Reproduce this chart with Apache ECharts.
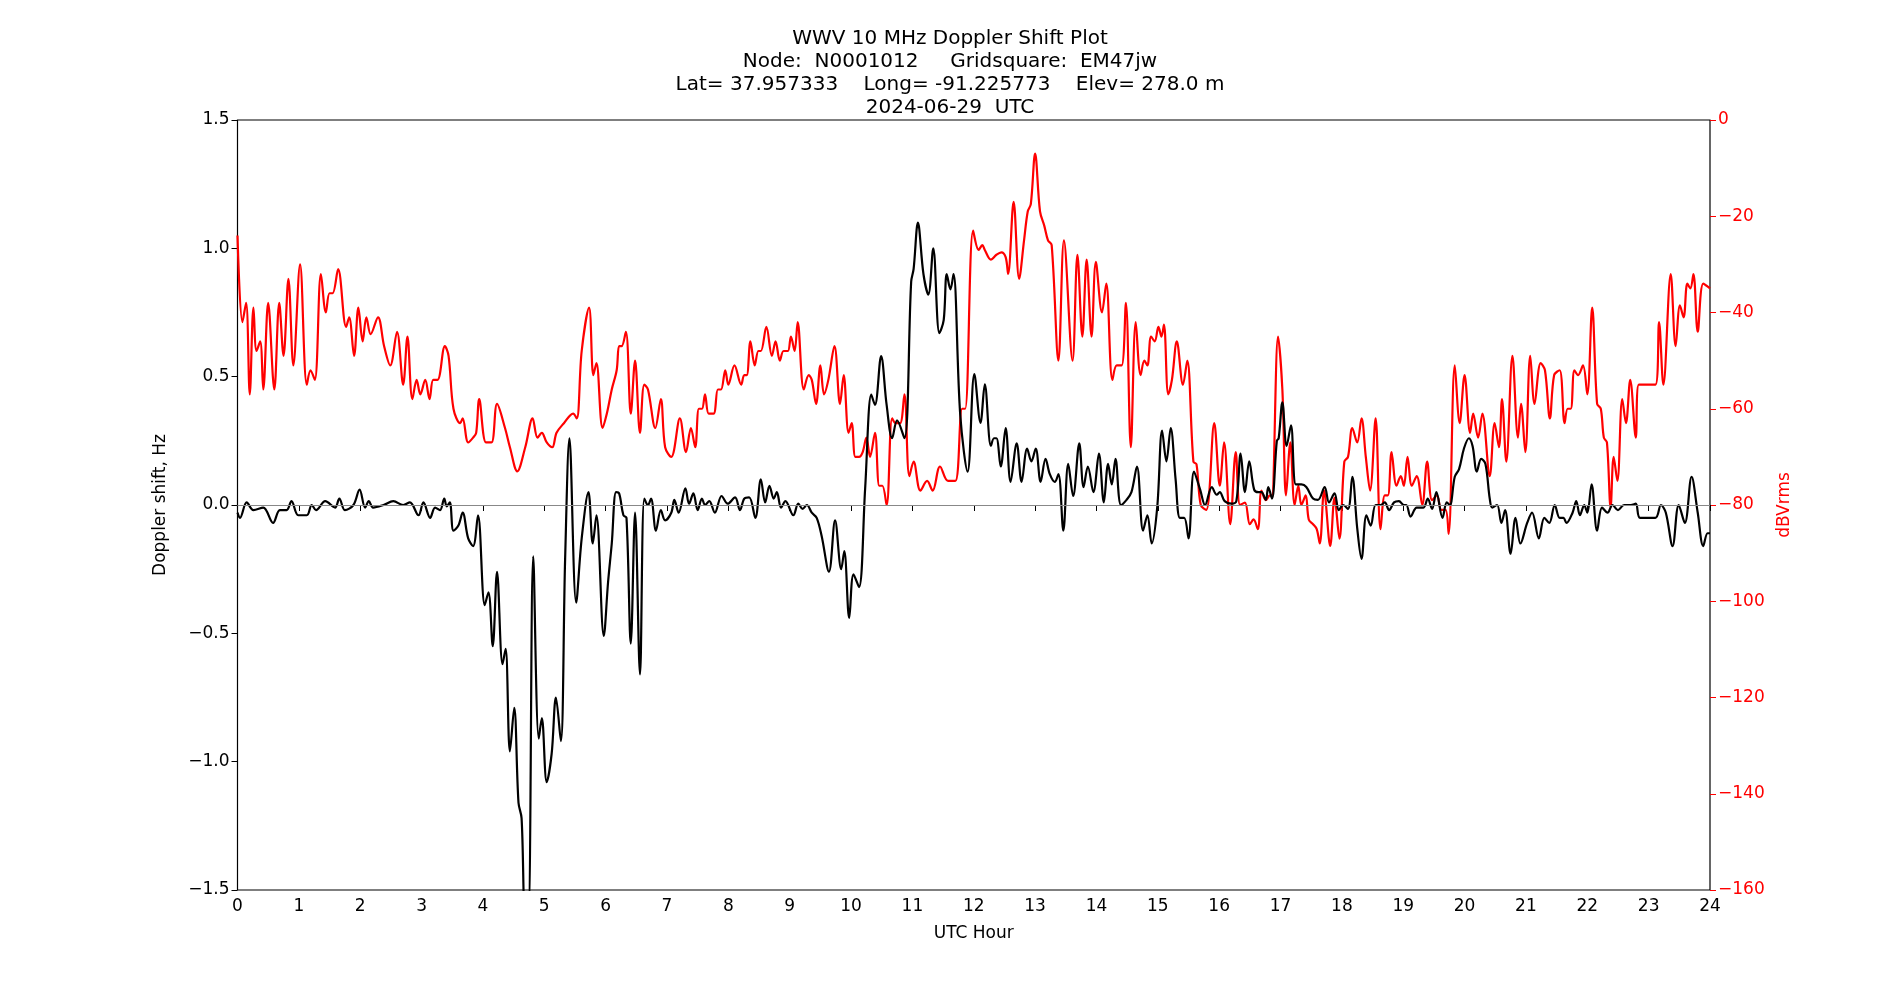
<!DOCTYPE html>
<html><head><meta charset="utf-8">
<script src="https://cdn.jsdelivr.net/npm/echarts@6/dist/echarts.min.js"></script>
<style>html,body{margin:0;padding:0;background:#fff}#c{width:1900px;height:1000px}</style>
</head><body><div id="c"></div>
<script>
const titleLines = ['WWV 10 MHz Doppler Shift Plot','Node:  N0001012     Gridsquare:  EM47jw','Lat= 37.957333    Long= -91.225773    Elev= 278.0 m','2024-06-29  UTC'];
const xTicks = [0,1,2,3,4,5,6,7,8,9,10,11,12,13,14,15,16,17,18,19,20,21,22,23,24];

const dopHours = [0.0,0.04,0.15,0.26,0.42,0.58,0.69,0.80,0.88,0.99,1.13,1.21,1.28,1.43,1.59,1.66,1.75,1.89,1.99,2.08,2.14,2.21,2.38,2.54,2.70,2.81,2.95,3.03,3.14,3.22,3.30,3.37,3.41,3.46,3.52,3.60,3.67,3.76,3.84,3.92,4.03,4.09,4.16,4.23,4.32,4.37,4.44,4.51,4.58,4.63,4.69,4.74,4.82,4.91,4.96,5.04,5.12,5.19,5.27,5.34,5.41,5.52,5.61,5.72,5.79,5.85,5.97,6.04,
6.10,6.17,6.22,6.29,6.34,6.41,6.48,6.56,6.63,6.69,6.74,6.82,6.90,6.97,7.07,7.12,7.19,7.30,7.36,7.43,7.50,7.57,7.62,7.69,7.78,7.89,7.99,8.11,8.19,8.26,8.34,8.44,8.53,8.60,8.67,8.74,8.79,8.86,8.93,9.06,9.14,9.21,9.28,9.36,9.44,9.52,9.64,9.74,9.84,9.89,9.97,10.04,10.13,10.23,10.33,10.39,10.49,10.58,10.67,10.75,10.87,10.98,11.02,11.09,11.18,11.26,11.34,11.44,11.51,11.56,11.62,11.67,11.78,11.90,12.01,12.11,
12.18,12.28,12.33,12.37,12.44,12.52,12.60,12.70,12.78,12.87,12.94,13.01,13.09,13.17,13.24,13.32,13.38,13.46,13.54,13.62,13.72,13.79,13.86,13.95,14.04,14.12,14.19,14.25,14.31,14.40,14.49,14.57,14.66,14.76,14.83,14.90,14.99,15.07,15.14,15.21,15.29,15.36,15.43,15.50,15.59,15.69,15.77,15.88,15.96,16.01,16.09,16.20,16.28,16.35,16.42,16.49,16.57,16.64,16.69,16.76,16.80,16.86,16.94,16.97,17.03,17.10,17.17,17.25,17.34,17.42,17.53,17.61,17.72,17.79,17.88,17.95,18.02,18.10,18.17,
18.25,18.32,18.40,18.47,18.55,18.63,18.70,18.77,18.85,18.93,19.01,19.05,19.12,19.22,19.33,19.40,19.47,19.54,19.64,19.71,19.76,19.84,19.91,19.99,20.07,20.13,20.20,20.27,20.34,20.41,20.45,20.53,20.60,20.66,20.75,20.83,20.91,21.02,21.10,21.21,21.30,21.38,21.47,21.55,21.61,21.66,21.76,21.82,21.88,21.95,22.00,22.07,22.16,22.24,22.33,22.41,22.50,22.60,22.71,22.79,22.86,23.11,23.20,23.28,23.39,23.49,23.59,23.70,23.80,23.89,23.96,24.0];
const dopVals = [-0.03,-0.05,0.01,-0.02,-0.01,-0.07,-0.02,-0.02,0.015,-0.04,-0.04,0,-0.02,0.015,-0.01,0.025,-0.02,0,0.06,-0.01,0.015,-0.01,0,0.015,0,0.01,-0.04,0.01,-0.05,-0.01,-0.02,0.025,-0.005,0.01,-0.1,-0.08,-0.03,-0.13,-0.16,-0.04,-0.39,-0.34,-0.55,-0.26,-0.62,-0.56,-0.96,-0.79,-1.16,-1.22,-1.6,-1.6,-0.2,-0.91,-0.83,-1.08,-0.97,-0.75,-0.92,-0.21,0.26,-0.38,-0.13,0.05,-0.15,-0.04,-0.51,-0.3,
-0.15,0.05,0.045,-0.04,-0.05,-0.54,-0.03,-0.66,0.025,0,0.025,-0.1,-0.02,-0.06,-0.03,0.02,-0.03,0.065,0.005,0.045,-0.02,0.025,0,0.015,-0.03,0.035,0.005,0.03,-0.02,0.025,0.03,-0.05,0.1,0.01,0.075,0.025,0.05,-0.01,0.015,-0.04,0.005,-0.015,0,-0.03,-0.05,-0.12,-0.26,-0.06,-0.25,-0.18,-0.44,-0.27,-0.32,0.065,0.43,0.39,0.58,0.39,0.26,0.33,0.26,0.87,0.92,1.10,0.9,0.82,1.0,0.67,0.72,0.9,0.84,0.9,0.35,0.13,0.51,0.32,
0.47,0.23,0.26,0.26,0.15,0.30,0.09,0.24,0.09,0.22,0.17,0.22,0.09,0.18,0.12,0.09,0.12,-0.1,0.16,0.035,0.24,0.07,0.15,0.05,0.2,0.01,0.16,0.08,0.18,0,0.02,0.05,0.15,-0.1,-0.04,-0.15,-0.01,0.29,0.17,0.3,0.1,-0.05,-0.05,-0.13,0.13,0.06,0,0.07,0.04,0.05,0.015,0.005,0.015,0.2,0.05,0.17,0.06,0.05,0.05,0.02,0.07,0.025,0.25,0.26,0.40,0.23,0.31,0.08,0.08,0.07,0.025,0.02,0.07,0.01,0.045,-0.02,0,-0.015,0.11,
-0.09,-0.21,-0.04,-0.08,0,0,0.01,-0.02,0.01,0.015,0,0,-0.045,-0.01,-0.01,0.025,-0.015,0.05,-0.05,0.01,0,0.11,0.14,0.22,0.26,0.23,0.13,0.18,0.16,0.025,-0.01,0,-0.07,-0.02,-0.19,-0.05,-0.15,-0.07,-0.03,-0.13,-0.05,-0.07,0,-0.05,-0.05,-0.07,-0.03,0.015,-0.04,0,-0.03,0.08,-0.1,-0.01,-0.03,0,-0.02,0,0,0.005,-0.05,-0.05,0,-0.03,-0.16,0,-0.07,0.11,-0.03,-0.16,-0.11,-0.11];

const pwrHours = [0.0,0.08,0.14,0.20,0.26,0.31,0.37,0.42,0.50,0.60,0.68,0.75,0.83,0.91,1.02,1.13,1.19,1.26,1.36,1.44,1.50,1.55,1.64,1.77,1.82,1.90,1.97,2.04,2.10,2.17,2.29,2.39,2.49,2.60,2.70,2.77,2.85,2.92,2.98,3.06,3.13,3.19,3.26,3.38,3.44,3.52,3.63,3.67,3.76,3.84,3.89,3.94,4.05,4.14,4.23,4.36,4.44,4.56,4.69,4.81,4.89,4.96,5.04,5.13,5.20,5.32,5.47,5.53,5.61,5.73,5.80,5.85,5.95,6.02,
6.10,6.18,6.22,6.26,6.33,6.41,6.48,6.56,6.63,6.69,6.81,6.90,6.97,7.07,7.21,7.31,7.39,7.46,7.52,7.57,7.62,7.68,7.76,7.83,7.88,7.95,8.00,8.10,8.21,8.26,8.30,8.36,8.43,8.49,8.53,8.62,8.71,8.77,8.84,8.90,8.97,9.02,9.08,9.13,9.23,9.31,9.36,9.43,9.50,9.56,9.63,9.73,9.82,9.88,9.96,10.01,10.07,10.13,10.19,10.25,10.31,10.39,10.46,10.51,10.58,10.67,10.73,10.80,10.87,10.95,11.02,11.13,11.24,11.33,11.45,11.58,11.70,11.81,11.86,11.99,12.08,12.14,
12.18,12.28,12.37,12.45,12.52,12.56,12.65,12.74,12.82,12.88,12.93,13.00,13.08,13.15,13.21,13.27,13.38,13.47,13.61,13.69,13.77,13.84,13.92,13.99,14.09,14.16,14.26,14.33,14.41,14.48,14.56,14.64,14.72,14.78,14.83,14.89,14.95,15.01,15.06,15.10,15.17,15.23,15.31,15.41,15.48,15.58,15.63,15.70,15.79,15.92,16.01,16.08,16.18,16.27,16.34,16.42,16.50,16.56,16.63,16.69,16.76,16.83,16.86,16.96,17.03,17.09,17.16,17.23,17.29,17.34,17.41,17.46,17.53,17.59,17.64,17.71,17.81,17.88,17.96,18.04,18.10,18.17,
18.25,18.32,18.39,18.46,18.55,18.63,18.70,18.75,18.81,18.89,18.96,19.01,19.07,19.14,19.22,19.31,19.39,19.47,19.55,19.62,19.69,19.74,19.84,19.92,20.00,20.09,20.14,20.22,20.29,20.41,20.49,20.56,20.61,20.68,20.78,20.87,20.92,20.99,21.07,21.14,21.24,21.31,21.39,21.46,21.55,21.63,21.68,21.73,21.79,21.85,21.93,22.00,22.08,22.16,22.22,22.27,22.32,22.38,22.43,22.49,22.57,22.63,22.70,22.79,22.84,23.11,23.17,23.24,23.36,23.44,23.51,23.57,23.63,23.68,23.73,23.80,23.89,24.0];
const pwrVals = [-24,-42,-38,-57,-39,-48,-46,-56,-38,-56,-38,-49,-33,-51,-30,-55,-52,-54,-32,-40,-36,-36,-31,-43,-41,-49,-39,-46,-41,-44.5,-41,-47,-51,-44,-55,-45,-58,-54,-57,-54,-58,-54,-54,-47,-49,-60,-63,-62,-67,-66,-65,-58,-67,-67,-59,-64,-68,-73,-68,-62,-66,-65,-67,-68,-65,-63,-61,-62,-48,-39,-53,-50.5,-64,-61,
-56,-52,-47,-47,-44,-61,-50,-65,-55,-56,-64,-58,-68,-70,-62,-69,-64,-68,-60,-60,-57,-61,-61,-56,-56,-52,-55,-51,-55,-53,-53,-46,-51,-48,-48,-43,-49,-46,-50,-48,-48,-45,-48,-42,-56,-53,-54,-59,-51,-57,-54,-47,-59,-53,-65,-63,-70,-70,-69,-66,-70,-65,-76,-76,-80,-62,-63,-63,-57,-74,-71,-77,-75,-77,-72,-75,-75,-60,-60,-23,-27,-26,
-27,-29,-28,-27.5,-28.5,-32,-17,-33,-25,-19,-17.5,-7,-19,-22,-25,-26,-50,-25,-50,-28,-45,-29,-45,-29.5,-40,-34,-54,-51,-51,-38,-68,-42,-53,-50,-51,-45,-46,-43,-45,-42.5,-57,-54,-46,-55,-50,-71,-71.5,-80,-81,-63,-76,-67,-84,-69,-80,-79.5,-84,-83,-85,-77,-79,-78,-78,-45,-56,-78,-67,-80,-76,-80,-78,-83,-84,-85,-88,-77,-88.5,-78.5,-87,-71,-70,-64,
-67,-62,-70,-77,-62,-85,-78,-78,-69,-76,-74,-76,-70,-76,-74,-80,-71,-79,-78,-81,-81,-86,-51,-63,-53,-65,-61,-66,-61,-74,-63,-68,-58,-71,-49,-66,-59,-69,-49,-59,-50.5,-52,-62,-53,-52,-63,-60,-60,-52,-53,-51,-57,-39,-59,-60,-66,-67,-80.5,-70,-75,-58,-63,-54,-66,-55,-55,-42,-55,-32,-47,-38.5,-41,-34,-35,-32,-44,-34,-35];

const zip = (a,b)=>a.map((h,i)=>[h,b[i]]);
const font = 'DejaVu Sans';
const chart = echarts.init(document.getElementById('c'));
chart.setOption({
  animation:false,
  title:{text:titleLines.join('\n'),left:'center',top:22,textStyle:{fontFamily:font,fontSize:20,fontWeight:'normal',color:'#000',lineHeight:23}},
  grid:{left:237.5,right:190,top:120,bottom:110,show:true,borderColor:'#000',borderWidth:1.2,backgroundColor:'transparent'},
  xAxis:{type:'value',min:0,max:24,interval:1,name:'UTC Hour',nameLocation:'middle',nameGap:35,
    nameTextStyle:{fontFamily:font,fontSize:17,color:'#000'},
    axisLine:{show:false},axisTick:{show:true,length:6,lineStyle:{color:'#000'}},splitLine:{show:false},
    axisLabel:{fontFamily:font,fontSize:17,color:'#000',margin:8}},
  yAxis:[
    {type:'value',min:-1.5,max:1.5,interval:0.5,name:'Doppler shift, Hz',nameLocation:'middle',nameGap:68,
      nameTextStyle:{fontFamily:font,fontSize:17,color:'#000'},
      axisLine:{show:false},axisTick:{show:true,length:6,lineStyle:{color:'#000'}},splitLine:{show:false},
      axisLabel:{fontFamily:font,fontSize:17,color:'#000',formatter:v=>(v<0?'\u2212':'')+Math.abs(v).toFixed(1)}},
    {type:'value',min:-160,max:0,interval:20,position:'right',name:'dBVrms',nameLocation:'middle',nameGap:62,
      nameTextStyle:{fontFamily:font,fontSize:17,color:'#ff0000'},
      axisLine:{show:false},axisTick:{show:true,length:6,lineStyle:{color:'#ff0000'}},splitLine:{show:false},
      axisLabel:{fontFamily:font,fontSize:17,color:'#ff0000',formatter:v=>(v<0?'\u2212':'')+Math.abs(v)}}
  ],
  series:[
    {type:'line',yAxisIndex:1,data:zip(pwrHours,pwrVals),smooth:0.35,symbol:'none',lineStyle:{color:'#ff0000',width:2.2},z:2},
    {type:'line',yAxisIndex:0,data:zip(dopHours,dopVals),smooth:0.35,symbol:'none',lineStyle:{color:'#000',width:2.2},z:3,
      markLine:{silent:true,symbol:'none',label:{show:false},lineStyle:{color:'#888',width:1.2,type:'solid'},data:[{yAxis:0}]}}
  ]
});
</script></body></html>
